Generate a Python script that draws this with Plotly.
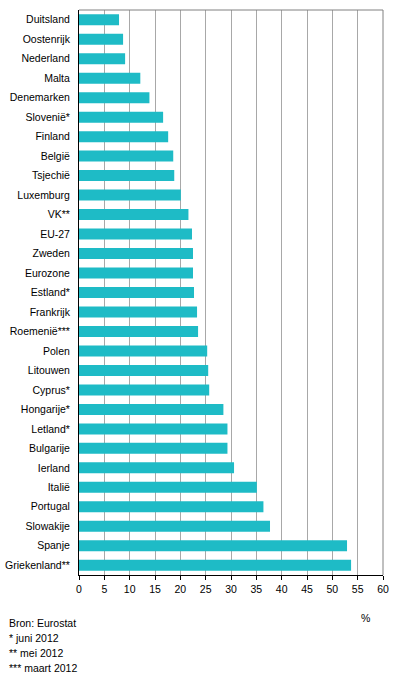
import plotly.graph_objects as go

categories = ["Duitsland", "Oostenrijk", "Nederland", "Malta", "Denemarken", "Slovenië*",
              "Finland", "België", "Tsjechië", "Luxemburg", "VK**", "EU-27", "Zweden",
              "Eurozone", "Estland*", "Frankrijk", "Roemenië***", "Polen", "Litouwen",
              "Cyprus*", "Hongarije*", "Letland*", "Bulgarije", "Ierland", "Italië",
              "Portugal", "Slowakije", "Spanje", "Griekenland**"]
values = [7.9, 8.7, 9.1, 12.1, 13.9, 16.6, 17.6, 18.6, 18.8, 20.1, 21.6, 22.3, 22.5,
          22.5, 22.7, 23.3, 23.5, 25.3, 25.5, 25.7, 28.5, 29.3, 29.3, 30.6, 35.1,
          36.4, 37.7, 52.9, 53.7]
x_ticks = list(range(0, 65, 5))
footnotes = ["Bron: Eurostat", "* juni 2012", "** mei 2012", "*** maart 2012"]

FONT = "Liberation Sans, Arial, sans-serif"
FS = 10.5

fig = go.Figure(go.Bar(
    x=values, y=categories, orientation="h",
    marker=dict(color="#1EBBC6", line=dict(width=0)),
    hoverinfo="x+y",
))

fig.update_layout(
    width=396, height=684,
    margin=dict(l=79, r=13, t=10, b=109, autoexpand=False),
    paper_bgcolor="white", plot_bgcolor="white",
    font=dict(family=FONT, size=FS, color="black"),
    bargap=0.435,
    showlegend=False,
)
fig.update_xaxes(
    range=[0, 60], tickvals=x_ticks, ticktext=[str(v) for v in x_ticks],
    showgrid=True, gridcolor="#A8A8A8", gridwidth=1,
    showline=True, linecolor="black", linewidth=1,
    ticks="outside", ticklen=4, tickcolor="black", tickwidth=1,
    zeroline=False, fixedrange=True, automargin=False,
    tickfont=dict(family=FONT, size=FS, color="black"),
)
fig.update_yaxes(
    autorange="reversed", showgrid=False,
    showline=True, linecolor="black", linewidth=1,
    ticks="", ticklabelstandoff=6, fixedrange=True, automargin=False,
    tickfont=dict(family=FONT, size=FS, color="black"),
)
# frame top and right
fig.add_shape(type="line", xref="paper", yref="paper", x0=0, x1=1, y0=1, y1=1,
              line=dict(color="#808080", width=1))
fig.add_shape(type="line", xref="paper", yref="paper", x0=1, x1=1, y0=0, y1=1,
              line=dict(color="#808080", width=1))

fig.add_annotation(text="%", xref="paper", yref="paper", x=(365.5 - 79) / 304, y=0,
                   yshift=-43, showarrow=False, xanchor="center", yanchor="middle",
                   font=dict(family=FONT, size=FS, color="black"))
for i, t in enumerate(footnotes):
    fig.add_annotation(text=t, xref="paper", yref="paper", x=-72 / 304, y=0,
                       yshift=-(48 + 15 * i), showarrow=False, xanchor="left",
                       yanchor="middle", align="left",
                       font=dict(family=FONT, size=FS, color="black"))

fig.write_html("out.html", config={"displayModeBar": False},
               post_script="document.body.style.margin='0';")
